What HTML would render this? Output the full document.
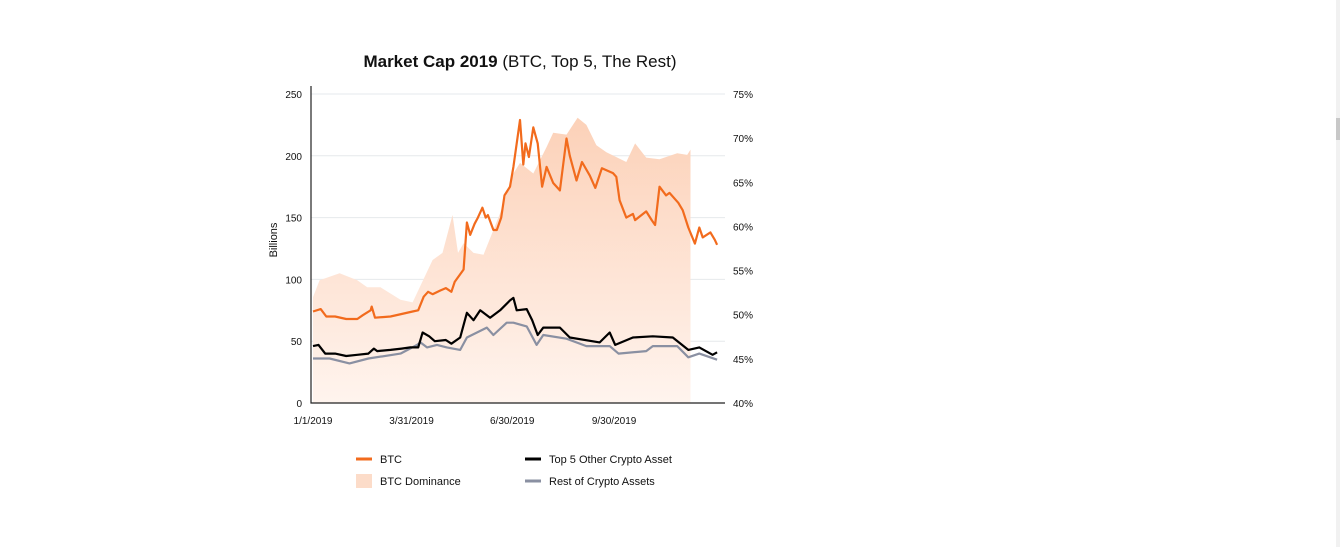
<!DOCTYPE html>
<html><head><meta charset="utf-8"><style>
body{margin:0;background:#fff;width:1340px;height:547px;overflow:hidden;font-family:"Liberation Sans",sans-serif}
svg text{font-family:"Liberation Sans",sans-serif}
</style></head><body>
<svg id="chart" width="1340" height="547">
<defs><linearGradient id="domg" x1="0" y1="0" x2="0" y2="1">
<stop offset="0" stop-color="#fcd1b8"/><stop offset="1" stop-color="#fff4ee"/></linearGradient></defs>
<rect x="1336" y="0" width="4" height="547" fill="#f1f1f1"/>
<rect x="1336" y="118" width="4" height="22" fill="#c8c8c8"/>
<text x="520" y="67" text-anchor="middle" font-size="17" fill="#111"><tspan font-weight="bold">Market Cap 2019</tspan> (BTC, Top 5, The Rest)</text>
<g id="grid"></g><g id="marks"></g><g id="axes"></g>
<text transform="translate(277,240) rotate(-90)" text-anchor="middle" font-size="11" fill="#111">Billions</text>
<g>
<line x1="356" y1="459" x2="372" y2="459" stroke="#f26b1d" stroke-width="3"/>
<text x="380" y="463" font-size="11" fill="#111">BTC</text>
<rect x="356" y="474" width="16" height="14" fill="#fcdcc9"/>
<text x="380" y="485" font-size="11" fill="#111">BTC Dominance</text>
<line x1="525" y1="459" x2="541" y2="459" stroke="#000" stroke-width="3"/>
<text x="549" y="463" font-size="11" fill="#111">Top 5 Other Crypto Asset</text>
<line x1="525" y1="481" x2="541" y2="481" stroke="#8a90a2" stroke-width="3"/>
<text x="549" y="485" font-size="11" fill="#111">Rest of Crypto Assets</text>
</g>
</svg>
<script>
const leftTicks=[0,50,100,150,200,250];
const rightTicks=[40,45,50,55,60,65,70,75];
const xTickDays=[0,89,180,272];
const xTickLabels=["1/1/2019","3/31/2019","6/30/2019","9/30/2019"];
const btcDays=[0,7,12,20,30,40,45,52,53,56,70,80,90,95,100,104,108,115,120,125,128,136,139,142,146,149,153,156,158,163,166,170,173,178,181,187,190,192,195,199,203,207,211,217,223,229,232,238,243,250,255,261,271,274,277,283,289,291,301,306,309,313,319,322,330,334,339,345,349,352,359,363,365];
const btcVals=[74,76,70,70,68,68,71,75,78,69,70,72,74,75,86,90,88,91,93,90,98,108,146,136,145,150,158,150,152,140,140,150,168,175,191,229,193,210,199,223,210,175,191,178,172,214,200,180,195,184,174,190,186,183,164,150,153,148,155,148,144,175,168,170,162,156,142,129,142,134,138,132,128,133].slice(0);
const top5Days=[0,5,11,20,30,40,50,55,58,70,80,88,95,99,105,110,120,125,133,139,145,151,160,169,178,181,184,193,198,203,208,223,232,259,268,273,289,307,325,339,349,361,365];
const top5Vals=[46,47,40,40,38,39,40,44,42,43,44,45,45,57,54,50,51,48,53,73,67,75,69,75,83,85,75,76,67,55,61,61,53,49,57,47,53,54,53,43,45,39,41];
const restDays=[0,15,33,50,79,94,97,103,112,121,133,139,157,163,175,181,193,202,208,229,247,268,276,301,307,329,339,349,365];
const restVals=[36,36,32,36,40,47,49,45,47,45,43,53,61,55,65,65,62,47,55,52,46,46,40,42,46,46,37,40,35];
const domDays=[0,6,24,40,49,61,79,90,108,117,126,131,136,145,154,169,181,187,199,211,217,229,239,247,256,265,283,291,301,313,329,338,341];
const domVals=[52,53.9,54.7,53.9,53.1,53.1,51.7,51.4,56.2,57,61.3,57,58.1,57,56.8,61.5,66,67.2,66,69,70.6,70.4,72.3,71.5,69.2,68.4,67.3,69.4,67.8,67.6,68.3,68.1,68.7];
const X=d=>313+d*1.107;
const Y=v=>403-v*309/250;
const YP=p=>403-(p-40)*309/35;
const NS="http://www.w3.org/2000/svg";
function mk(tag,attrs,parent){const e=document.createElementNS(NS,tag);for(const k in attrs)e.setAttribute(k,attrs[k]);document.getElementById(parent).appendChild(e);return e;}
leftTicks.forEach(v=>{
 if(v>0){const g=mk('line',{x1:311,x2:725,y1:Y(v),y2:Y(v),stroke:'#e6e9ec','stroke-width':1},'grid');
 
 }
 const t=mk('text',{x:302,y:Y(v)+4,'text-anchor':'end','font-size':10,fill:'#111'},'axes');t.textContent=v;
 
 
});
rightTicks.forEach(p=>{
 const t=mk('text',{x:733,y:YP(p)+4,'font-size':10,fill:'#111'},'axes');t.textContent=p+'%';
 
 
});
xTickDays.forEach((d,i)=>{
 const t=mk('text',{x:X(d),y:424,'text-anchor':'middle','font-size':10,fill:'#111'},'axes');t.textContent=xTickLabels[i];
 
 
});
const ax=mk('path',{d:'M311,86V403H725',fill:'none',stroke:'#222','stroke-width':1.2},'axes');


let dp='M'+X(domDays[0])+','+Y(0);
domDays.forEach((d,i)=>dp+='L'+X(d).toFixed(1)+','+YP(domVals[i]).toFixed(1));
dp+='L'+X(domDays[domDays.length-1])+','+Y(0)+'Z';
const area=mk('path',{d:dp,fill:'url(#domg)'},'marks');


function line(days,vals,color,name){
 const d=days.map((x,i)=>(i?'L':'M')+X(x).toFixed(1)+','+Y(vals[i]).toFixed(1)).join('');
 const p=mk('path',{d:d,fill:'none',stroke:color,'stroke-width':2.2,'stroke-linejoin':'round'},'marks');
 
 
}
line(restDays,restVals,'#8a90a2','rest-line');
line(top5Days,top5Vals,'#000','top5-line');
line(btcDays,btcVals,'#f26b1d','btc-line');
</script>
</body></html>
